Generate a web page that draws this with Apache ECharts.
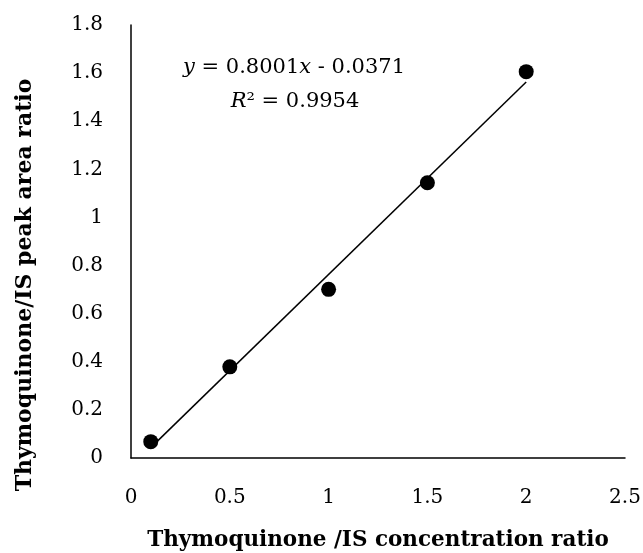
<!DOCTYPE html>
<html><head><meta charset="utf-8">
<script src="https://cdn.jsdelivr.net/npm/echarts@6/dist/echarts.min.js"></script>
<style>html,body{margin:0;padding:0;background:#fff}#c{width:643px;height:553px}</style>
</head><body><div id="c"></div>
<script>
const xValues = [0.1, 0.5, 1.0, 1.5, 2.0];
const yValues = [0.068, 0.379, 0.701, 1.144, 1.606];
const trendX = [0.1, 2.0];
const trendY = [0.043, 1.563];
const xTitle = 'Thymoquinone /IS concentration ratio';
const yTitle = 'Thymoquinone/IS peak area ratio';
const FONT = 'DejaVu Serif';

const chart = echarts.init(document.getElementById('c'));
chart.setOption({
  animation: false,
  backgroundColor: '#fff',
  grid: {left: 131, right: 18, top: 25, bottom: 95, outerBoundsMode: 'none', containLabel: false},
  xAxis: {
    type: 'value', min: 0, max: 2.5, interval: 0.5,
    axisLine: {show: true, lineStyle: {color: '#000', width: 1.5}},
    axisTick: {show: false}, splitLine: {show: false},
    axisLabel: {color: '#000', fontFamily: FONT, fontSize: 20, margin: 30, showMaxLabel: true},
    name: xTitle, nameLocation: 'middle', nameGap: 71,
    nameTextStyle: {color: '#000', fontFamily: FONT, fontSize: 21.5, fontWeight: 'bold'}
  },
  yAxis: {
    type: 'value', min: 0, max: 1.8, interval: 0.2,
    axisLine: {show: true, lineStyle: {color: '#000', width: 1.5}},
    axisTick: {show: false}, splitLine: {show: false},
    axisLabel: {color: '#000', fontFamily: FONT, fontSize: 20, margin: 28, showMaxLabel: true}
  },
  graphic: [
    {type: 'text', x: 25, y: 285, rotation: Math.PI / 2,
      style: {text: yTitle, fill: '#000', font: 'bold 22px "DejaVu Serif"', align: 'center', verticalAlign: 'middle'}},
    {type: 'text', x: 294, y: 68,
      style: {
        rich: {
          i: {fontFamily: FONT, fontStyle: 'italic', fontSize: 21, fill: '#000'},
          n: {fontFamily: FONT, fontSize: 21, fill: '#000'}
        },
        text: '{i|y}{n| = 0.8001}{i|x}{n| - 0.0371}',
        align: 'center', verticalAlign: 'middle'
      }},
    {type: 'text', x: 295, y: 102,
      style: {
        rich: {
          i: {fontFamily: FONT, fontStyle: 'italic', fontSize: 21, fill: '#000'},
          n: {fontFamily: FONT, fontSize: 21, fill: '#000'}
        },
        text: '{i|R}{n|² = 0.9954}',
        align: 'center', verticalAlign: 'middle'
      }}
  ],
  series: [
    {type: 'line', data: trendX.map((x, i) => [x, trendY[i]]), symbol: 'none',
      lineStyle: {color: '#000', width: 1.5}, silent: true},
    {type: 'scatter', data: xValues.map((x, i) => [x, yValues[i]]), symbolSize: 15,
      itemStyle: {color: '#000', opacity: 1}}
  ]
});
</script></body></html>
